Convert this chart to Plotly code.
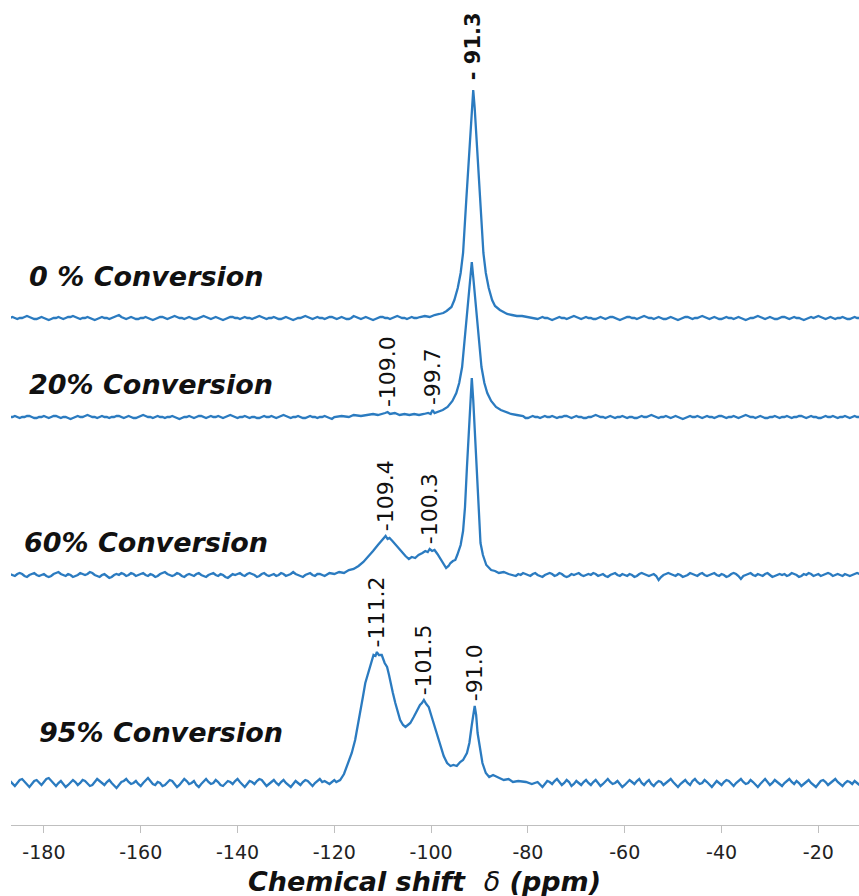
import numpy as np
import plotly.graph_objects as go

# ---------------------------------------------------------------------------
# 29Si MAS NMR spectra at increasing conversion (intensity in arbitrary units)
# ---------------------------------------------------------------------------
series_names = ["0 % Conversion", "20% Conversion", "60% Conversion", "95% Conversion"]

# x-axis ticks
tick_vals = [-180, -160, -140, -120, -100, -80, -60, -40, -20]
tick_text = ["-180", "-160", "-140", "-120", "-100", "-80", "-60", "-40", "-20"]

# baseline start and sampling step (ppm)
GRID_START = -187.0
GRID_STEP = 0.5

# baseline noise, one value every 0.5 ppm from -187 ppm (16 values per row)
noise_0 = [
    0, 1, 0, -1, 0, 0, 1, 2, 1, 0, -1, -1, 0, 1, 0, -1,
    -2, -1, 0, 0, 1, 0, -1, 0, 1, 1, 2, 1, 0, -1, 0, 0,
    1, 0, -1, -2, -1, 0, 1, 0, 0, -1, 0, 1, 2, 3, 1, 0,
    -1, 0, 1, 0, -1, -1, 0, 0, 1, 0, -1, -2, -1, 0, 1, 1,
    0, -1, 0, 1, 2, 1, 0, 0, -1, 0, 1, 0, -1, -1, 0, 1,
    2, 1, 0, -1, 0, 1, 0, -1, -2, -1, 0, 1, 1, 0, 0, -1,
    0, 1, 0, 0, -1, 0, 1, 2, 1, 0, -1, 0, 0, 1, 0, -1,
    -1, 0, 1, 0, -1, -2, -1, 0, 0, 1, 2, 1, 0, -1, 0, 1,
    0, 0, -1, 0, 1, 1, 0, -1, 0, 1, 0, -1, -1, 0, 2, 1,
    0, -1, 0, 1, 0, -1, -2, -1, 0, 1, 1, 0, 0, -1, 0, 1,
    2, 1, 0, 0, -1, 0, 1, 0, -1, -1, 0, 1, 0, 0, 1, 2,
    1, 0, -1, 0, 0, 1, 0, -1, -2, -1, 0, 0, 1, 0, -1, 0,
    1, 2, 1, 0, -1, 0, 1, 0, 0, -1, 0, 1, 1, 0, -1, -1,
    0, 1, 0, -1, 0, 1, 2, 1, 0, -1, -1, 0, 1, 0, 0, -1,
    -2, -1, 0, 1, 0, 0, -1, 0, 1, 2, 1, 0, -1, 0, 1, 0,
    0, -1, -1, 0, 1, 0, -1, 0, 1, 1, 0, -1, -2, -1, 0, 1,
    1, 0, 0, -1, 0, 1, 2, 1, 0, 0, -1, 0, 1, 0, -1, -1,
    0, 1, 0, -1, -2, -1, 0, 1, 1, 0, -1, 0, 0, 1, 2, 1,
    0, -1, 0, 1, 0, -1, -1, 0, 1, 0, 0, -1, 0, 1, 0, -1,
    -2, -1, 0, 0, 1, 2, 1, 0, -1, 0, 1, 0, -1, -1, 0, 1,
    1, 0, -1, 0, 1, 0, 0, -1, -2, -1, 0, 1, 0, 1, 2, 1,
    0, -1, 0, 1, 0, -1, 0, 0, 1, 0, -1, -1, 0, 1, 0, 0,
]
noise_20 = [
    0, 0, 1, 0, -1, 0, 0, 1, 1, 0, -1, -1, 0, 0, 1, 0,
    -1, 0, 1, 1, 0, -1, 0, 0, -1, -2, -1, 0, 1, 0, 0, 1,
    2, 1, 0, 0, -1, 0, 1, 0, 0, -1, 0, 0, 1, 1, 0, -1,
    0, 1, 0, -1, -1, 0, 1, 2, 1, 0, 0, -1, 0, 1, 0, 0,
    -1, 0, 0, 1, 0, -1, -2, -1, 0, 0, 1, 0, -1, 0, 1, 1,
    0, -1, 0, 1, 0, 0, 1, 0, -1, 0, 1, 2, 1, 0, -1, 0,
    0, 1, 0, -1, 0, 0, -1, -1, 0, 1, 0, 0, 1, 0, -1, 0,
    1, 2, 1, 0, -1, 0, 0, 1, 0, -1, -1, 0, 1, 0, 0, -1,
    0, 0, 1, 0, -1, -2, -1, 0, 1, 1, 0, 0, -1, 0, 1, 0,
    0, 1, 0, 0, -1, 0, 1, 0, -1, 0, 0, 1, 2, 1, 0, 0,
    -1, -1, 0, 1, 0, 0, -1, 0, 1, 0, -1, -1, 0, 0, 1, 0,
    1, 0, -1, 0, 1, 1, 0, -1, 0, 0, 1, 0, -1, -2, -1, 0,
    0, 1, 1, 0, 0, -1, 0, 1, 0, -1, 0, 0, 1, 2, 1, 0,
    -1, 0, 0, 1, 0, -1, -1, 0, 1, 0, 0, -1, 0, 1, 0, 0,
    1, 0, -1, 0, 0, 1, 1, 0, -1, 0, 1, 0, 0, -1, -1, 0,
    0, 1, 2, 1, 0, 0, -1, 0, 1, 0, -1, 0, 0, 1, 0, -1,
    0, 0, -1, -1, 0, 1, 0, 0, 1, 2, 1, 0, -1, 0, 0, 1,
    0, -1, 0, 1, 0, -1, -2, -1, 0, 1, 0, 0, 1, 0, -1, 0,
    1, 0, 0, -1, 0, 1, 1, 0, -1, 0, 0, 1, 0, -1, 0, 1,
    2, 1, 0, 0, -1, 0, 1, 0, -1, -1, 0, 0, 1, 0, -1, 0,
    0, 1, 0, -1, 0, 0, 1, 1, 0, -1, 0, 1, 0, 0, -1, -1,
    0, 1, 0, 0, 1, 0, -1, 0, 0, 1, 0, -1, 0, 1, 0, 0,
]
noise_60 = [
    1, 0, -1, 1, 2, 1, -1, -2, 0, 1, 2, 0, -1, 0, 1, -1,
    -2, -1, 1, 2, 3, 1, 0, -1, 1, 0, -2, -1, 0, 2, 1, 0,
    1, 3, 2, 0, -1, -2, 0, 1, -1, -3, -2, 0, 1, 0, 2, 1,
    -1, 0, 2, 1, -1, 0, 1, 2, 0, -1, 1, 0, -2, -1, 1, 2,
    3, 1, 0, -1, 0, 2, 1, -1, -2, 0, 1, 0, -1, 1, 2, 0,
    -1, -2, 0, 1, 2, 0, -1, 1, 0, -2, -3, -1, 1, 0, 1, 2,
    0, -1, 1, 2, 1, 0, -2, -1, 1, 2, 0, -1, 0, 1, -1, 0,
    2, 1, -1, 0, 1, 3, 1, 0, -1, -2, 0, 1, 2, 0, -1, 1,
    0, -2, -1, 1, 0, 2, 1, -1, 0, 1, -1, -2, 0, 1, 2, 1,
    -1, 0, 1, -1, -2, 0, 2, 1, 0, -1, 1, 2, 0, -1, 0, 1,
    2, 0, -1, 1, 0, -2, -1, 0, 2, 3, 1, -1, 0, 1, -1, -2,
    0, 1, 2, 0, -1, 1, 0, -1, -2, 0, 1, 2, 1, -1, 0, 1,
    -1, 0, 2, 1, 0, -1, -2, 0, 1, 0, 2, 1, -1, 0, 1, 0,
    -2, -1, 1, 0, 2, 1, 0, -1, 1, 2, 0, -1, -2, 0, 1, 2,
    1, -1, 0, 2, 1, -1, -2, -1, 1, 0, 1, 2, 0, -1, 0, 1,
    0, 2, 1, -1, 0, 1, -1, -2, 0, 1, 2, 0, -1, 1, 0, -1,
    1, 0, -2, -1, 1, 2, 1, 0, -1, 0, 1, -1, -5, -2, 0, 1,
    2, 1, 0, -1, 1, 0, -2, -1, 0, 2, 1, 0, -1, 1, 2, 0,
    -1, 0, 1, 2, 0, -1, 1, 0, -2, -1, 1, 2, 1, -1, -4, -1,
    0, 1, 2, 0, -1, 1, 0, -1, 1, 2, 0, -2, -1, 0, 1, 0,
    1, -1, 0, 2, 1, 0, -2, -1, 1, 0, 2, 1, -1, 0, 1, -1,
    0, 1, 2, 1, -1, 0, 1, 0, -1, 1, 0, -1, 0, 1, 2, 1,
]
noise_95 = [
    2, -1, -3, 0, 3, 4, 1, -2, -4, -1, 2, 3, 0, -2, 1, 4,
    5, 2, -1, -3, 0, 2, -1, -4, -2, 1, 3, 1, -2, 0, 3, 2,
    -1, -3, -2, 1, 4, 2, 0, -2, 1, 3, 0, -3, -5, -2, 1, 2,
    4, 1, -1, 0, 2, -1, -3, 0, 3, 5, 2, -1, -2, 1, 0, -3,
    -2, 1, 3, 2, -1, -4, -2, 1, 4, 2, -1, 0, 2, -2, -4, -1,
    2, 4, 1, -1, 0, 3, 1, -2, -3, 0, 2, 1, -1, 2, 4, 1,
    -2, -4, -1, 2, 1, -1, 2, 4, 3, 0, -3, -1, 1, 3, 0, -2,
    1, 3, 0, -2, -4, -1, 2, 0, -2, 1, 3, 2, -1, -3, 0, 2,
    4, 1, -2, 0, 3, 1, -1, -4, -2, 2, 4, 1, -1, 1, 3, 0,
    -3, -1, 2, 4, 1, -2, 0, 2, -1, -3, 1, 3, 2, -1, -4, -2,
    1, 3, 0, -2, 2, 4, 1, -1, -3, 0, 2, -1, -2, 1, 4, 2,
    -1, -4, -2, 1, 3, 0, -2, 2, 4, 1, -1, -3, 0, 2, 1, -2,
    0, 3, 1, -2, -4, -1, 2, 3, 0, -2, 1, 4, 2, -1, -3, 0,
    2, 0, -3, -1, 2, 4, 1, -2, 0, 3, 1, -2, -4, -1, 2, 1,
    -1, 2, 4, 1, -2, 0, 3, 1, -3, -1, 2, 0, -2, 1, 3, 0,
    -2, 1, 3, 0, -3, -1, 2, 4, 1, -1, 0, 2, -1, -4, -2, 1,
    3, 1, -1, 2, 4, 0, -2, 1, 3, -1, -3, 0, 2, 1, -2, 0,
    2, 4, 1, -2, -4, -1, 1, 3, 0, -2, 2, 4, 1, -1, 0, 3,
    1, -2, -4, -1, 2, 0, -2, 1, 3, 2, -1, -3, 0, 2, 4, 1,
    -1, 0, 3, 1, -2, -4, -1, 2, 4, 1, -2, 0, 3, 1, -1, -3,
    0, 2, 4, 1, -1, 2, 0, -3, -1, 1, 3, 0, -2, -4, -1, 2,
    3, 1, -2, 0, 2, 4, 1, -1, -3, 0, 2, 1, -1, 2, 0, -2,
]

# resonance regions (ppm, intensity)
peak_x_0 = [-103, -102.3, -101.3, -100.3, -99.3, -98.3, -97.5, -96.8, -95.8, -95.2,
            -94.5, -93.9, -93.4, -92.7, -92.3, -91.9, -91.6, -91.3, -91.0, -90.7,
            -90.3, -89.9, -89.2, -88.7, -88.1, -87.4, -86.8, -85.8, -84.9, -84.3,
            -83.3, -82.3, -81.2, -80.3, -79]
peak_y_0 = [0, 1, 2, 1, 3, 4, 5, 7, 11, 18,
            30, 45, 65, 121, 152, 185, 210, 228, 210, 185,
            152, 121, 65, 45, 30, 18, 12, 8, 6, 4,
            3, 2, 2, 1, 0]

peak_x_20 = [-120, -118.5, -117, -116, -114.5, -113, -112, -111, -110, -109.5,
             -109.0, -108.5, -107.5, -106.5, -105.5, -104.5, -103.5, -102.5, -101.5, -100.6,
             -100.1, -99.7, -99.3, -98.6, -97.6, -96.6, -95.6, -94.8, -94.2, -93.6,
             -93.1, -92.7, -92.2, -91.9, -91.6, -91.3, -91.0, -90.5, -90.1, -89.6,
             -89.0, -88.4, -87.6, -86.6, -85.6, -84.6, -83.5, -82.3, -81]
peak_y_20 = [0, 1, 0, 2, 1, 2, 3, 2, 3, 4,
             5, 3, 4, 2, 3, 2, 3, 2, 3, 4,
             3, 7, 4, 5, 7, 10, 16, 24, 34, 50,
             75, 100, 125, 140, 155, 140, 125, 100, 75, 50,
             34, 24, 16, 10, 7, 5, 3, 2, 1]

peak_x_60 = [-123, -122, -121, -120, -119, -118, -117, -116, -115, -114,
             -113, -112, -111, -110.2, -109.8, -109.4, -109.0, -108.6, -108.0, -107.3,
             -106.6, -106.0, -105.3, -104.6, -104.0, -103.3, -102.6, -101.8, -101.2, -100.7,
             -100.3, -99.8, -99.3, -98.7, -98.0, -97.4, -96.9, -96.4, -96.0, -95.5,
             -95.0, -94.6, -93.9, -93.4, -93.0, -92.6, -92.2, -91.9, -91.6, -91.3,
             -91.0, -90.6, -90.2, -89.8, -89.3, -88.6, -87.6, -86.8, -86.0, -85.0,
             -84.0, -83]
peak_y_60 = [1, -1, 2, 1, 3, 2, 5, 6, 9, 13,
             18, 24, 30, 35, 37, 39, 36, 37, 34, 30,
             26, 22, 19, 16, 18, 17, 20, 22, 24, 23,
             26, 24, 25, 21, 15, 10, 7, 9, 12, 14,
             15, 20, 30, 44, 68, 108, 145, 175, 197, 175,
             145, 105, 60, 32, 20, 10, 5, 4, 2, 3,
             1, 0]

peak_x_95 = [-122, -121, -120, -119.6, -118.8, -118, -117.1, -116.4, -115.7, -115.1,
             -114.6, -114.1, -113.6, -113.1, -112.6, -112.2, -111.9, -111.5, -111.2, -110.8,
             -110.2, -109.6, -109.1, -108.7, -108.4, -107.9, -107.4, -106.9, -106.4, -105.8,
             -105.3, -104.8, -104.3, -103.6, -102.9, -102.3, -101.9, -101.5, -101.0, -100.5,
             -100.0, -99.5, -98.8, -98.1, -97.4, -96.7, -96.0, -95.4, -94.7, -94.0,
             -93.4, -92.6, -92.1, -91.6, -91.3, -91.0, -90.7, -90.4, -89.9, -89.4,
             -88.7, -88.0, -87.2, -86.5, -85.9, -85.0, -84.0, -83.1, -82.0, -80.4,
             -79.2, -78]
peak_y_95 = [2, -1, 3, 1, 3, 9, 20, 30, 43, 58,
             73, 86, 100, 108, 116, 122, 128, 127, 131, 128,
             128, 120, 116, 108, 100, 90, 80, 72, 63, 58,
             56, 58, 60, 66, 73, 78, 80, 83, 79, 76,
             68, 60, 48, 36, 27, 20, 17, 18, 17, 21,
             23, 30, 40, 58, 70, 77, 68, 50, 35, 20,
             10, 6, 8, 6, 5, 3, 4, 1, 2, 1,
             -1, 1]

# labelled chemical shifts for each spectrum
label_ppm = [[-91.3], [-109.0, -99.7], [-109.4, -100.3], [-111.2, -101.5, -91.0]]
label_text = [["- 91.3"], ["-109.0", "-99.7"], ["-109.4", "-100.3"], ["-111.2", "-101.5", "-91.0"]]

# ---------------------------------------------------------------------------
# layout constants
# ---------------------------------------------------------------------------
stack_offset = [507, 408, 250, 42]          # vertical offset of each spectrum
label_gap = [8, 3, 3, 3]                    # space between peak and its label
name_pos = [(-183.5, 549), (-183.5, 441), (-184.5, 283), (-181.4, 93)]
LINE_COLOR = "#2b7bc0"
FONT = "DejaVu Sans"


def assemble(noise, fx, fy):
    """Join baseline samples outside the resonance window with the window itself."""
    noise = np.asarray(noise, dtype=float)
    grid = GRID_START + GRID_STEP * np.arange(len(noise))
    left = grid < fx[0]
    right = grid > fx[-1]
    x = np.concatenate([grid[left], np.asarray(fx, float), grid[right]])
    y = np.concatenate([noise[left], np.asarray(fy, float), noise[right]])
    return x, y


noises = [noise_0, noise_20, noise_60, noise_95]
peaks_x = [peak_x_0, peak_x_20, peak_x_60, peak_x_95]
peaks_y = [peak_y_0, peak_y_20, peak_y_60, peak_y_95]

fig = go.Figure()
annotations = []

for i, name in enumerate(series_names):
    x, y = assemble(noises[i], peaks_x[i], peaks_y[i])
    fig.add_trace(go.Scatter(
        x=x, y=y + stack_offset[i], mode="lines", name=name,
        line=dict(color=LINE_COLOR, width=2.3), showlegend=False,
        hoverinfo="skip",
    ))
    # spectrum name
    nx, ny = name_pos[i]
    annotations.append(dict(
        x=nx, y=ny, xref="x", yref="y", xanchor="left", yanchor="middle",
        text=f"<b><i>{name}</i></b>", showarrow=False,
        font=dict(family=FONT, size=27, color="#111111"),
    ))
    # peak position labels, rotated, sitting on top of each peak
    for ppm, txt in zip(label_ppm[i], label_text[i]):
        k = int(np.argmin(np.abs(np.asarray(peaks_x[i]) - ppm)))
        top = peaks_y[i][k] + stack_offset[i] + label_gap[i]
        bold = i == 0
        annotations.append(dict(
            x=ppm, y=top, xref="x", yref="y", xanchor="center", yanchor="bottom",
            text=f"<b>{txt}</b>" if bold else txt, textangle=-90, showarrow=False,
            font=dict(family=FONT, size=21 if bold else 22, color="#111111"),
        ))

# axis title
annotations.append(dict(
    x=0.488, y=-0.069, xref="paper", yref="paper", xanchor="center", yanchor="middle",
    text="<b><i>Chemical shift\u00a0\u00a0</i></b><i>\u03b4</i><b><i> (ppm)</i></b>",
    showarrow=False, font=dict(family=FONT, size=27, color="#111111"),
))

fig.update_layout(
    width=859, height=896,
    margin=dict(l=11, r=0, t=0, b=71),
    paper_bgcolor="white", plot_bgcolor="white",
    annotations=annotations,
    xaxis=dict(
        range=[-186.8, -11.6], tickmode="array",
        tickvals=tick_vals, ticktext=tick_text,
        showline=True, linecolor="#bfbfbf", linewidth=1,
        ticks="outside", ticklen=7, tickcolor="#bfbfbf", tickwidth=1,
        showgrid=False, zeroline=False,
        tickfont=dict(family=FONT, size=19, color="#222222"),
        ticklabelstandoff=3,
    ),
    yaxis=dict(range=[0, 825], visible=False),
)

fig.write_html("out.html")
